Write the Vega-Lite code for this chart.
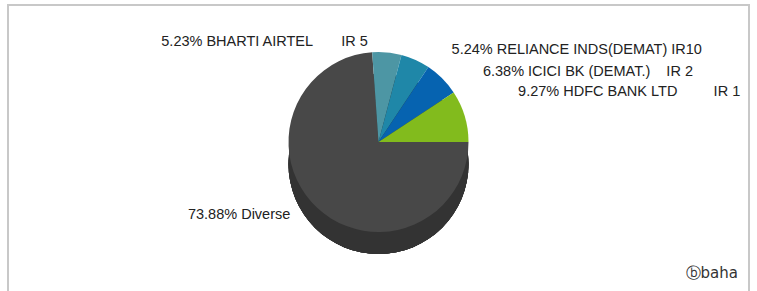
{
  "$schema": "https://vega.github.io/schema/vega-lite/v6.json",
  "width": 741,
  "height": 290,
  "autosize": "none",
  "padding": {"left": 8, "right": 8, "top": 5, "bottom": 0},
  "background": "white",
  "config": {"view": {"stroke": null}},
  "title": {"text": "ⓑbaha", "orient": "bottom", "anchor": "end", "offset": -30, "dx": -12, "font": "DejaVu Sans", "fontSize": 15, "fontWeight": "normal", "color": "#333333"},
  "data": {"values": [
    {"rank": 1, "name": "Diverse", "pct": 73.88, "label": "73.88% Diverse"},
    {"rank": 2, "name": "BHARTI AIRTEL", "pct": 5.23, "label": "5.23% BHARTI AIRTEL\u00a0\u00a0\u00a0\u00a0\u00a0\u00a0\u00a0IR 5"},
    {"rank": 3, "name": "RELIANCE INDS(DEMAT)", "pct": 5.24, "label": "5.24% RELIANCE INDS(DEMAT) IR10"},
    {"rank": 4, "name": "ICICI BK (DEMAT.)", "pct": 6.38, "label": "6.38% ICICI BK (DEMAT.)\u00a0\u00a0\u00a0\u00a0IR 2"},
    {"rank": 5, "name": "HDFC BANK LTD", "pct": 9.27, "label": "9.27% HDFC BANK LTD\u00a0\u00a0\u00a0\u00a0\u00a0\u00a0\u00a0\u00a0\u00a0IR 1"}
  ]},
  "layer": [
    {
      "data": {"values": [{"frame": 1}]},
      "mark": {"type": "rect", "fill": null, "stroke": "#c8c8c8", "strokeWidth": 2},
      "encoding": {}
    },
    {
      "mark": {"type": "arc", "radius": 90, "theta": 0, "theta2": 6.2832, "yOffset": 14, "color": "#333333"},
      "encoding": {}
    },
    {
      "mark": {"type": "arc", "radius": 90, "yOffset": -8},
      "encoding": {
        "theta": {"field": "pct", "type": "quantitative", "stack": true, "scale": {"range": [1.5708, 7.854]}},
        "order": {"field": "rank", "type": "quantitative"},
        "color": {
          "field": "name", "type": "nominal", "legend": null,
          "scale": {
            "domain": ["Diverse", "BHARTI AIRTEL", "RELIANCE INDS(DEMAT)", "ICICI BK (DEMAT.)", "HDFC BANK LTD"],
            "range": ["#484848", "#4d96a4", "#1f87a8", "#0663b0", "#82bb1d"]
          }
        }
      }
    },
    {
      "mark": {"type": "text", "radius": 105, "yOffset": -4, "dx": 30, "align": "left", "baseline": "middle", "font": "Liberation Sans", "fontSize": 14.5, "color": "#222222"},
      "encoding": {
        "theta": {"field": "pct", "type": "quantitative", "stack": true},
        "order": {"field": "rank", "type": "quantitative"},
        "text": {"condition": {"test": "datum.rank == 3 || datum.rank == 4", "field": "label"}, "value": ""}
      }
    },
    {
      "mark": {"type": "text", "radius": 105, "yOffset": -28, "dx": 39, "align": "left", "baseline": "middle", "font": "Liberation Sans", "fontSize": 14.5, "color": "#222222"},
      "encoding": {
        "theta": {"field": "pct", "type": "quantitative", "stack": true},
        "order": {"field": "rank", "type": "quantitative"},
        "text": {"condition": {"test": "datum.rank == 5", "field": "label"}, "value": ""}
      }
    },
    {
      "mark": {"type": "text", "radius": 100, "yOffset": -8, "dx": -20, "align": "right", "baseline": "middle", "font": "Liberation Sans", "fontSize": 14.5, "color": "#222222"},
      "encoding": {
        "theta": {"field": "pct", "type": "quantitative", "stack": true},
        "order": {"field": "rank", "type": "quantitative"},
        "text": {"condition": {"test": "datum.rank <= 2", "field": "label"}, "value": ""}
      }
    }
  ]
}
